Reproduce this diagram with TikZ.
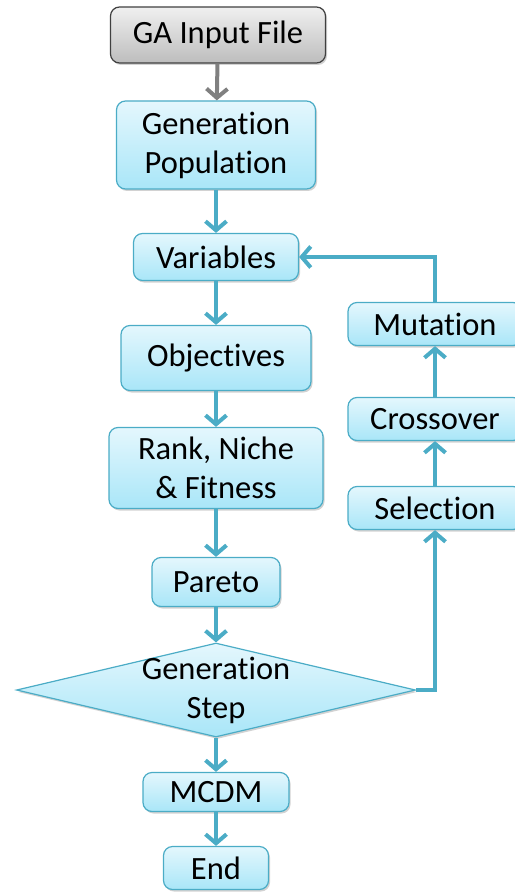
\documentclass[tikz,border=0pt]{standalone}
\usepackage{fontspec}
\setmainfont{Carlito}[Ligatures=CommonOff]
\usetikzlibrary{arrows.meta,shapes.geometric,shadows}
\definecolor{edgeblue}{HTML}{4BACC6}
\definecolor{boxtop}{HTML}{E4F7FD}
\definecolor{boxbot}{HTML}{A9E6F8}
\definecolor{graytop}{HTML}{F0F0F0}
\definecolor{graybot}{HTML}{BDBDBD}
\begin{document}
\begin{tikzpicture}[x=1pt,y=-1pt,
  every node/.style={font=\fontsize{32.5}{39}\selectfont},
  bluebox/.style={draw=edgeblue, line width=1.2pt, rounded corners=9pt,
    top color=boxtop, bottom color=boxbot, inner sep=0pt,
    drop shadow={shadow xshift=1.5pt, shadow yshift=-2pt, opacity=0.25, fill=black!70}},
  graybox/.style={draw=black!75, line width=1.2pt, rounded corners=9pt,
    top color=graytop, bottom color=graybot, inner sep=0pt,
    drop shadow={shadow xshift=1.5pt, shadow yshift=-2pt, opacity=0.25, fill=black!70}},
  flow/.style={draw=edgeblue, line width=4pt,
    -{Straight Barb[length=9pt,width=21pt]}},
  grayflow/.style={draw=black!50, line width=4pt,
    -{Straight Barb[length=9pt,width=21pt]}}]
\useasboundingbox (0,0) rectangle (514,893);

\node[graybox, minimum width=215pt, minimum height=56pt] (gin) at (218,35) {GA Input File};
\node[bluebox, minimum width=199pt, minimum height=88pt, align=center] (gp) at (216,145) {Generation\\Population};
\node[bluebox, minimum width=165pt, minimum height=47pt] (var) at (216,257) {Variables};
\node[bluebox, minimum width=190pt, minimum height=65pt] (obj) at (216,358) {Objectives};
\node[bluebox, minimum width=214pt, minimum height=81pt, align=center] (rank) at (216,468) {Rank, Niche\\\& Fitness};
\node[bluebox, minimum width=128pt, minimum height=49pt] (par) at (216,582) {Pareto};
\node[diamond, draw=edgeblue, line width=1.2pt, top color=boxtop, bottom color=boxbot,
  inner sep=0pt, minimum width=399pt, minimum height=94pt,
  drop shadow={shadow xshift=1.5pt, shadow yshift=-2pt, opacity=0.25, fill=black!70}] (gs) at (216,690) {};
\node[align=center] (gstext) at (gs.center) {Generation\\Step};
\node[bluebox, minimum width=146pt, minimum height=39pt] (mcdm) at (216,792) {MCDM};
\node[bluebox, minimum width=105pt, minimum height=43pt] (end) at (216,868) {End};

\node[bluebox, minimum width=174pt, minimum height=43pt] (mut) at (435,324) {Mutation};
\node[bluebox, minimum width=174pt, minimum height=43pt] (cross) at (435,419) {Crossover};
\node[bluebox, minimum width=174pt, minimum height=43pt] (sel) at (435,508) {Selection};

\draw[grayflow] (gin) -- (gp);
\draw[flow] (gp) -- (var);
\draw[flow] (var) -- (obj);
\draw[flow] (obj) -- (rank);
\draw[flow] (rank) -- (par);
\draw[flow] (par) -- (gs.north);
\draw[flow] (gs.south) -- (mcdm);
\draw[flow] (mcdm) -- (end);
\draw[flow] (gs.east) -| (sel.south);
\draw[flow] (sel) -- (cross);
\draw[flow] (cross) -- (mut);
\draw[flow] (mut.north) |- (var.east);
\end{tikzpicture}
\end{document}
